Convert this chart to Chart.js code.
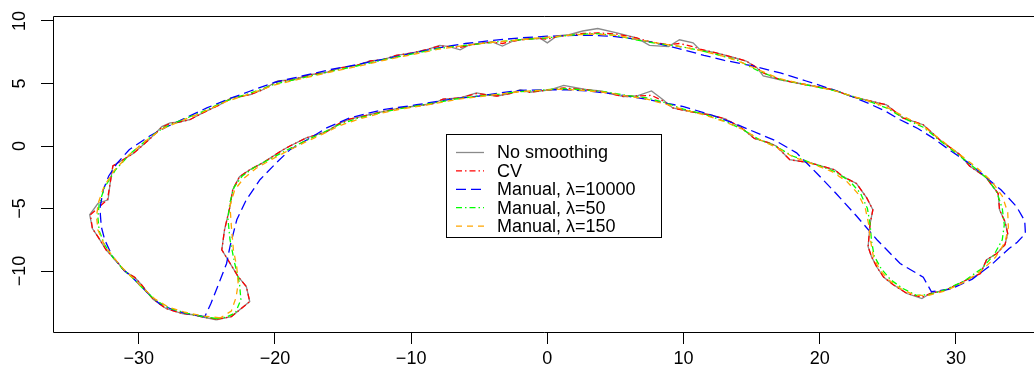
<!DOCTYPE html>
<html><head><meta charset="utf-8">
<script src="https://cdn.jsdelivr.net/npm/chart.js@4.4.1/dist/chart.umd.min.js"></script>
<style>html,body{margin:0;padding:0;background:#fff}#wrap{width:1034px;height:378px;position:relative}</style>
</head><body><div id="wrap"><canvas id="c" width="1034" height="378"></canvas></div>
<script>
const seriesLabels = ["No smoothing", "CV", "Manual, \u03bb=10000", "Manual, \u03bb=50", "Manual, \u03bb=150"];
const xTicks = [-30, -20, -10, 0, 10, 20, 30];
const yTicks = [-10, -5, 0, 5, 10];

const rawX = [-24.3,-25.2,-26.0,-26.8,-28.0,-28.9,-29.3,-29.8,-30.3,-31.0,-31.6,-32.4,-33.0,-33.4,-33.6,-33.0,-32.25,-32.1,-31.9,-30.4,-29.2,-28.3,-27.7,-27.1,-26.25,-25.3,-24.05,-23.2,-21.85,-20.9,-19.8,-18.7,-17.4,-16.2,-15.2,-14.0,-13.0,-12.1,-11.1,-9.9,-8.9,-7.9,-7.2,-6.4,-5.7,-4.7,-4.0,-3.3,-2.5,-1.5,-0.5,0.0,0.7,1.6,2.6,3.7,5.1,6.55,7.5,8.9,9.7,10.7,11.2,12.4,13.6,14.6,15.4,15.85,17.1,19.0,21.0,22.5,23.7,24.9,26.1,27.6,28.8,30.3,31.0,32.2,33.1,33.2,33.6,33.8,33.6,33.0,32.25,31.8,30.8,29.3,28.1,27.5,26.4,25.4,24.7,24.2,23.8,23.55,23.7,23.9,23.45,22.7,21.7,21.1,19.3,17.8,16.8,16.3,15.2,14.2,13.0,11.9,10.5,9.2,8.5,7.65,6.55,5.6,3.9,2.9,1.2,0.2,-0.55,-1.3,-2.0,-2.75,-3.7,-4.5,-5.2,-6.4,-7.65,-8.4,-9.6,-10.8,-12.1,-13.3,-14.5,-15.2,-16.2,-16.95,-17.7,-18.9,-19.4,-20.9,-21.85,-22.6,-23.1,-23.3,-23.7,-23.9,-22.7,-22.1,-21.85,-23.2,-24.3];
const rawY = [-13.9,-13.7,-13.5,-13.4,-13.0,-12.3,-11.8,-11.1,-10.5,-10.05,-9.25,-8.3,-7.25,-6.6,-5.5,-4.6,-4.3,-3.0,-1.6,-0.6,0.55,1.55,1.85,1.9,2.1,2.65,3.3,3.85,4.1,4.5,5.2,5.3,5.7,5.9,6.25,6.45,6.8,6.9,7.25,7.45,7.7,8.05,7.95,7.7,8.1,8.25,8.3,8.0,8.4,8.6,8.6,8.25,8.8,8.9,9.2,9.4,9.05,8.65,8.05,7.95,8.5,8.25,7.7,7.45,7.1,6.8,6.25,5.6,5.3,4.9,4.5,3.9,3.6,3.3,2.25,1.7,0.5,-0.7,-1.6,-2.5,-3.8,-5.1,-6.05,-7.0,-7.9,-8.6,-9.1,-10.2,-10.7,-11.5,-11.8,-12.2,-11.8,-11.1,-10.5,-9.7,-8.85,-8.05,-6.2,-5.1,-4.15,-3.0,-2.45,-1.9,-1.35,-1.1,0.0,0.25,0.6,1.5,2.2,2.5,2.75,3.05,3.7,4.4,4.0,3.95,4.4,4.5,4.85,4.5,4.4,4.3,4.5,4.2,4.0,4.1,4.25,3.85,3.75,3.4,3.2,3.05,2.75,2.45,2.15,1.85,1.15,0.9,0.65,0.0,-0.3,-1.35,-1.9,-2.45,-3.5,-4.85,-6.7,-8.3,-10.45,-11.25,-12.45,-13.65,-13.9];

const cvX = [-24.3,-25.2,-26.0,-26.8,-28.0,-28.9,-29.3,-29.8,-30.3,-31.0,-31.6,-32.4,-33.0,-33.4,-33.55,-32.3,-32.1,-31.9,-30.4,-29.2,-28.3,-27.7,-27.1,-26.25,-25.3,-24.05,-23.2,-21.85,-20.9,-19.8,-18.7,-17.4,-16.2,-15.2,-14.0,-13.0,-12.1,-11.1,-9.9,-8.9,-7.9,-7.2,-6.4,-5.7,-4.7,-4.0,-3.3,-2.5,-1.5,-0.5,0.0,0.7,1.6,2.6,3.7,5.1,6.55,7.5,8.9,9.7,10.7,11.2,12.4,13.6,14.6,15.4,15.85,17.1,19.0,21.0,22.5,23.7,24.9,26.1,27.6,28.8,30.3,31.0,32.2,33.1,33.2,33.6,33.8,33.6,33.0,32.25,31.8,30.8,29.3,28.1,27.5,26.4,25.4,24.7,24.2,23.8,23.55,23.7,23.9,23.45,22.7,21.7,21.1,19.3,17.8,16.8,16.3,15.2,14.2,13.0,11.9,10.5,9.2,8.5,7.65,6.55,5.6,3.9,2.9,1.2,0.2,-0.55,-1.3,-2.0,-2.75,-3.7,-4.5,-5.2,-6.4,-7.65,-8.4,-9.6,-10.8,-12.1,-13.3,-14.5,-15.2,-16.2,-16.95,-17.7,-18.9,-19.4,-20.9,-21.85,-22.6,-23.1,-23.3,-23.7,-23.9,-22.7,-22.1,-21.85,-23.2,-24.3];
const cvY = [-13.85,-13.7,-13.5,-13.4,-13.0,-12.3,-11.8,-11.1,-10.5,-10.05,-9.25,-8.3,-7.25,-6.6,-5.5,-4.3,-3.0,-1.6,-0.6,0.55,1.5,1.8,1.9,2.1,2.65,3.3,3.8,4.1,4.5,5.15,5.3,5.7,5.9,6.25,6.45,6.8,6.9,7.25,7.45,7.7,8.0,7.95,7.9,8.05,8.25,8.3,8.2,8.4,8.55,8.6,8.55,8.75,8.85,9.0,9.05,8.95,8.65,8.35,8.1,8.2,7.95,7.75,7.45,7.1,6.8,6.25,5.85,5.3,4.9,4.5,3.9,3.6,3.3,2.25,1.7,0.5,-0.7,-1.6,-2.5,-3.8,-5.1,-6.05,-7.0,-7.9,-8.6,-9.1,-10.2,-10.7,-11.5,-11.8,-12.1,-11.8,-11.1,-10.5,-9.7,-8.85,-8.05,-6.2,-5.1,-4.15,-3.0,-2.45,-1.9,-1.35,-1.1,0.0,0.25,0.6,1.5,2.2,2.5,2.75,3.05,3.6,4.05,4.0,3.95,4.35,4.5,4.65,4.5,4.4,4.3,4.4,4.2,4.0,4.1,4.2,3.85,3.75,3.4,3.2,3.05,2.75,2.45,2.15,1.85,1.15,0.9,0.65,0.0,-0.3,-1.35,-1.9,-2.45,-3.5,-4.85,-6.7,-8.3,-10.45,-11.25,-12.45,-13.65,-13.85];

const m10000X = [-25.15,-26.5,-27.5,-28.5,-29.4,-30.3,-31.2,-31.9,-32.5,-32.75,-32.85,-32.6,-32.2,-31.6,-30.7,-29.2,-28.0,-26.75,-25.0,-23.3,-21.8,-20.0,-18.0,-16.0,-14.0,-12.0,-10.0,-8.0,-6.0,-4.0,-2.0,0.0,2.0,3.5,5.0,6.8,8.5,10.0,11.5,13.0,15.1,17.1,19.0,21.0,22.5,23.5,24.8,25.9,27.2,28.3,29.5,31.0,32.2,33.3,34.45,35.05,35.1,34.5,33.9,32.6,31.2,29.6,28.2,27.6,25.9,24.2,22.7,21.2,19.8,18.3,16.8,15.6,13.65,12.0,10.0,7.5,5.0,3.0,1.4,0.0,-2.0,-3.5,-5.0,-7.0,-9.6,-12.1,-14.5,-16.2,-17.4,-18.9,-19.9,-21.1,-22.1,-22.8,-23.3,-23.55,-24.3,-24.7,-25.15];
const m10000Y = [-13.66,-13.4,-13.1,-12.6,-11.7,-10.7,-9.8,-8.9,-7.5,-6.45,-5.0,-3.5,-2.4,-1.4,-0.3,0.8,1.5,2.15,3.05,3.8,4.4,5.1,5.6,6.1,6.5,6.95,7.4,7.85,8.2,8.45,8.65,8.78,8.85,8.85,8.75,8.5,8.1,7.7,7.25,6.85,6.4,5.85,5.2,4.5,3.9,3.45,2.8,2.1,1.4,0.65,-0.3,-1.4,-2.5,-3.5,-4.85,-6.0,-7.0,-7.7,-8.2,-9.5,-10.65,-11.45,-11.66,-10.5,-9.4,-7.5,-5.6,-3.8,-2.2,-0.55,0.4,0.95,1.84,2.5,3.15,3.7,4.15,4.4,4.5,4.5,4.45,4.25,4.0,3.75,3.3,2.9,2.25,1.45,0.65,-0.3,-1.35,-2.7,-4.3,-5.9,-8.05,-9.4,-11.5,-12.6,-13.66];

const m50X = [-24.3,-25.3,-26.6,-27.8,-28.8,-29.6,-30.4,-31.2,-31.9,-32.5,-32.9,-33.0,-32.9,-32.5,-31.7,-30.6,-29.4,-28.2,-26.9,-25.3,-23.6,-21.9,-20.0,-18.0,-16.0,-14.0,-12.0,-10.0,-8.0,-6.0,-4.0,-2.0,0.0,2.0,3.5,5.0,6.5,8.0,9.5,11.0,12.5,14.0,15.5,17.0,19.0,21.0,22.5,23.8,25.0,26.2,27.6,28.8,30.1,31.2,32.3,33.0,33.4,33.55,33.4,32.8,31.9,30.6,29.2,28.0,27.1,26.1,25.2,24.5,24.0,23.8,23.7,23.5,23.0,22.2,21.0,19.5,18.0,16.8,15.5,14.3,13.0,11.5,10.0,8.7,7.3,5.8,4.2,2.6,1.0,-0.5,-2.0,-3.5,-5.0,-6.5,-8.0,-9.6,-11.0,-12.5,-14.0,-15.3,-16.5,-17.7,-18.9,-20.2,-21.5,-22.4,-23.0,-23.3,-23.45,-23.3,-22.95,-22.6,-22.5,-22.9,-23.6,-24.3];
const m50Y = [-13.8,-13.65,-13.35,-12.95,-12.3,-11.5,-10.6,-9.8,-8.9,-7.9,-6.8,-5.7,-4.6,-3.3,-1.9,-0.6,0.5,1.45,2.05,2.75,3.6,4.2,4.95,5.45,5.95,6.4,6.9,7.35,7.8,8.05,8.3,8.5,8.65,8.9,9.0,8.85,8.5,8.2,8.0,7.7,7.3,6.85,6.0,5.35,4.9,4.45,3.95,3.5,3.0,2.2,1.5,0.45,-0.65,-1.6,-2.6,-3.7,-5.0,-6.3,-7.5,-8.7,-9.8,-10.8,-11.5,-11.9,-11.95,-11.4,-10.7,-9.8,-8.8,-7.6,-6.3,-5.0,-3.8,-2.8,-2.0,-1.4,-0.8,-0.05,0.55,1.35,2.0,2.55,2.95,3.45,3.85,4.05,4.35,4.5,4.6,4.45,4.35,4.15,4.0,3.8,3.5,3.2,2.95,2.6,2.2,1.7,1.05,0.45,-0.2,-0.95,-1.7,-2.4,-3.3,-4.5,-5.8,-7.5,-9.4,-11.0,-12.3,-13.35,-13.7,-13.8];

const m150X = [-24.0,-25.3,-26.6,-27.8,-28.8,-29.6,-30.4,-31.2,-31.9,-32.55,-33.0,-33.1,-32.95,-32.55,-31.8,-30.7,-29.5,-28.3,-26.9,-25.3,-23.6,-21.9,-20.0,-18.0,-16.0,-14.0,-12.0,-10.0,-8.0,-6.0,-4.0,-2.0,0.0,2.0,3.5,5.0,6.5,8.0,9.5,11.0,12.5,14.0,15.5,17.0,19.0,21.0,22.5,23.8,25.0,26.3,27.7,29.0,30.3,31.5,32.6,33.4,33.8,33.85,33.6,32.9,31.9,30.6,29.2,28.0,27.0,26.0,25.1,24.4,23.95,23.75,23.6,23.35,22.8,22.0,20.9,19.5,18.0,16.8,15.6,14.4,13.0,11.5,10.0,8.7,7.3,5.8,4.2,2.6,1.0,-0.5,-2.0,-3.5,-5.0,-6.5,-8.0,-9.6,-11.0,-12.5,-14.0,-15.3,-16.5,-17.7,-18.9,-20.2,-21.4,-22.3,-22.95,-23.3,-23.2,-23.05,-22.8,-22.7,-22.85,-23.2,-24.0];
const m150Y = [-13.75,-13.6,-13.3,-12.9,-12.25,-11.45,-10.6,-9.75,-8.85,-7.85,-6.7,-5.6,-4.5,-3.25,-1.95,-0.7,0.4,1.35,2.0,2.7,3.55,4.15,4.9,5.4,5.9,6.35,6.85,7.3,7.75,8.05,8.3,8.5,8.7,8.9,8.95,8.85,8.55,8.25,8.0,7.7,7.3,6.8,6.1,5.4,4.9,4.45,3.95,3.55,3.05,2.3,1.5,0.4,-0.7,-1.7,-2.8,-4.0,-5.3,-6.5,-7.7,-8.9,-9.95,-10.9,-11.6,-11.95,-11.95,-11.45,-10.75,-9.9,-8.9,-7.7,-6.3,-5.0,-3.8,-2.85,-2.05,-1.45,-0.85,-0.1,0.5,1.3,1.95,2.5,2.9,3.35,3.75,4.0,4.3,4.45,4.55,4.45,4.35,4.15,3.95,3.75,3.45,3.15,2.9,2.55,2.1,1.6,0.95,0.35,-0.3,-1.05,-1.8,-2.6,-3.5,-4.8,-6.4,-8.3,-9.7,-11.0,-12.1,-13.2,-13.75];

const seriesX = [rawX, cvX, m10000X, m50X, m150X];
const seriesY = [rawY, cvY, m10000Y, m50Y, m150Y];
const seriesColors = ['#8a8a8a', '#ff0000', '#0000ff', '#00ff00', '#ffa500'];
const seriesDash = [[], [6, 3, 1.5, 3], [10, 5], [6, 3, 1.5, 3], [6, 5]];

const FONT = "'Liberation Sans', Arial, Helvetica, sans-serif";
const TICK_SIZE = 18;
function fmt(v) { return v < 0 ? '\u2212' + Math.abs(v) : String(v); }

const datasets = seriesLabels.map((lab, i) => ({
  label: lab,
  data: seriesX[i].map((x, k) => ({ x: x, y: seriesY[i][k] })),
  showLine: true, fill: false, tension: 0,
  pointRadius: 0, pointHoverRadius: 0,
  borderColor: seriesColors[i], backgroundColor: seriesColors[i],
  borderWidth: 1.3, borderDash: seriesDash[i],
  order: 5 - i
}));

const rPlugin = {
  id: 'rstyle',
  afterDraw(chart) {
    const ctx = chart.ctx, a = chart.chartArea, ys = chart.scales.y;
    ctx.save();
    ctx.strokeStyle = '#000'; ctx.lineWidth = 1; ctx.setLineDash([]);
    const L = Math.round(a.left) + 0.5, T = Math.round(a.top) + 0.5, B = Math.round(a.bottom) + 0.5, R = chart.width + 2;
    ctx.beginPath(); ctx.moveTo(R, T); ctx.lineTo(L, T); ctx.lineTo(L, B); ctx.lineTo(R, B); ctx.stroke();
    // rotated y tick labels
    ctx.fillStyle = '#000';
    ctx.font = TICK_SIZE + 'px ' + FONT;
    ctx.textAlign = 'center'; ctx.textBaseline = 'alphabetic';
    yTicks.forEach(v => {
      const py = ys.getPixelForValue(v);
      ctx.save(); ctx.translate(L - 29, py); ctx.rotate(-Math.PI / 2);
      ctx.fillText(fmt(v), 0, 0); ctx.restore();
    });
    // legend
    const bx = 446.5, by = 134.5, bw = 215, bh = 103;
    ctx.fillStyle = '#fff'; ctx.fillRect(bx, by, bw, bh);
    ctx.strokeStyle = '#000'; ctx.strokeRect(bx, by, bw, bh);
    ctx.font = '18px ' + FONT; ctx.textAlign = 'left'; ctx.textBaseline = 'middle';
    chart.data.datasets.forEach((ds, i) => {
      const ry = 152.5 + i * 18.4;
      ctx.strokeStyle = ds.borderColor; ctx.lineWidth = 1.3; ctx.setLineDash(ds.borderDash);
      ctx.beginPath(); ctx.moveTo(456, ry); ctx.lineTo(484, ry); ctx.stroke();
      ctx.setLineDash([]);
      ctx.fillStyle = '#000'; ctx.fillText(ds.label, 497, ry + 1);
    });
    ctx.restore();
  }
};

new Chart(document.getElementById('c'), {
  type: 'scatter',
  data: { datasets: datasets },
  options: {
    responsive: false, animation: false, devicePixelRatio: 1,
    layout: { padding: { top: 16, right: 0, left: 0, bottom: 0 } },
    plugins: { legend: { display: false }, tooltip: { enabled: false } },
    scales: {
      x: {
        type: 'linear', min: -36.294, max: 35.73,
        afterBuildTicks: s => { s.ticks = xTicks.map(v => ({ value: v })); },
        afterFit: s => { s.height = 46; },
        grid: { display: true, drawOnChartArea: false, drawTicks: true, tickLength: 12, color: '#000', lineWidth: 1 },
        border: { display: false },
        ticks: { color: '#000', font: { family: FONT, size: TICK_SIZE }, padding: 4, maxRotation: 0, autoSkip: false, callback: v => fmt(v) }
      },
      y: {
        type: 'linear', min: -14.88, max: 10.40,
        afterBuildTicks: s => { s.ticks = yTicks.map(v => ({ value: v })); },
        afterFit: s => { s.width = 53; },
        grid: { display: true, drawOnChartArea: false, drawTicks: true, tickLength: 12, color: '#000', lineWidth: 1 },
        border: { display: false },
        ticks: { display: false }
      }
    }
  },
  plugins: [rPlugin]
});
</script></body></html>
